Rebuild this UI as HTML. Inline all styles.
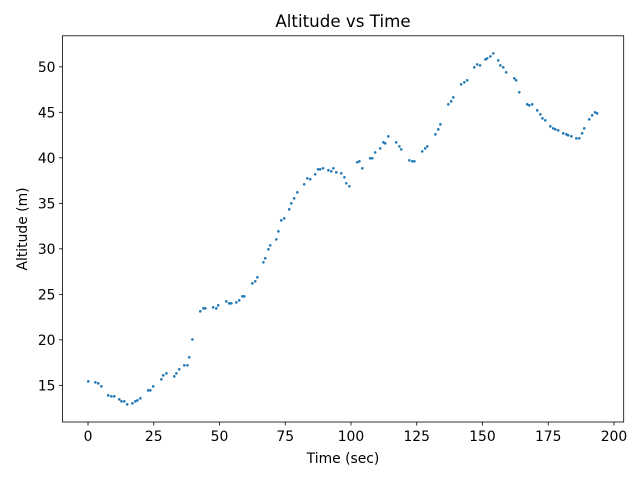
<!DOCTYPE html>
<html><head><meta charset="utf-8"><style>
body{margin:0;background:#fff;width:640px;height:480px;overflow:hidden}
svg{display:block;font-family:"DejaVu Sans","Liberation Sans",sans-serif}
</style></head><body>
<svg id="chart" width="640" height="480" viewBox="0 0 640 480" xmlns="http://www.w3.org/2000/svg">
<rect x="0" y="0" width="640" height="480" fill="#fff"/>
<text x="343" y="27" font-size="16.7" text-anchor="middle" fill="#000">Altitude vs Time</text>
<g id="axes"></g>
<g id="points"></g>
<rect x="62.5" y="35.8" width="561.2" height="386.2" fill="none" stroke="#000" stroke-width="0.8"/>
<text x="343" y="463" font-size="13.9" text-anchor="middle">Time (sec)</text>
<text transform="translate(27,229) rotate(-90)" font-size="13.9" text-anchor="middle">Altitude (m)</text>
</svg>
<script>
const timeSec=[0.1,2.8,3.9,5.1,7.7,8.9,10.0,11.9,12.7,13.8,14.9,16.9,18.0,18.8,19.9,22.9,23.7,24.8,27.9,28.6,29.8,32.8,33.6,34.7,36.6,37.8,38.5,39.7,42.7,43.9,44.6,47.6,48.8,49.5,52.6,53.7,54.5,56.4,57.5,58.7,59.4,62.5,63.6,64.4,66.7,67.4,68.6,69.3,71.6,72.4,73.5,74.6,76.5,77.3,78.4,79.6,82.2,83.4,84.5,86.4,87.5,88.3,89.4,91.4,92.5,93.3,94.4,96.3,97.5,98.2,99.4,102.4,103.2,104.3,107.3,108.1,109.2,111.1,112.3,113.0,114.2,117.2,118.4,119.1,122.2,123.3,124.1,127.1,128.2,129.0,132.1,133.2,134.0,137.0,138.1,138.9,141.9,143.1,144.2,146.9,148.0,149.1,151.1,151.8,153.0,154.1,156.0,156.8,157.9,159.0,162.1,162.8,164.0,167.0,167.8,168.9,170.8,172.0,172.8,173.9,175.8,176.9,177.7,178.8,180.7,181.9,182.6,183.8,185.7,186.8,187.9,188.7,190.6,191.7,192.8,193.6];
const altitudeM=[15.44,15.33,15.22,14.89,13.90,13.79,13.79,13.46,13.24,13.24,12.91,13.02,13.24,13.35,13.57,14.45,14.45,14.89,15.66,16.10,16.32,15.99,16.32,16.76,17.20,17.20,18.08,20.05,23.13,23.46,23.46,23.57,23.46,23.79,24.23,24.01,24.01,24.12,24.34,24.78,24.78,26.21,26.43,26.87,28.52,28.96,29.95,30.38,31.04,31.92,33.13,33.35,34.34,35.0,35.55,36.21,37.09,37.75,37.64,38.19,38.74,38.74,38.85,38.63,38.52,38.85,38.41,38.30,37.86,37.20,36.87,39.51,39.62,38.85,39.95,39.95,40.60,41.04,41.70,41.59,42.36,41.70,41.26,40.93,39.73,39.62,39.62,40.71,41.04,41.26,42.58,43.13,43.68,45.88,46.21,46.65,48.08,48.30,48.52,49.95,50.27,50.16,50.82,50.93,51.15,51.48,50.71,50.16,49.95,49.40,48.74,48.52,47.20,45.88,45.77,45.88,45.22,44.78,44.34,44.12,43.46,43.24,43.13,43.02,42.69,42.58,42.47,42.36,42.14,42.14,42.69,43.24,44.23,44.67,45.00,44.89];
const xTicks=[0,25,50,75,100,125,150,175,200];
const yTicks=[15,20,25,30,35,40,45,50];
const NS="http://www.w3.org/2000/svg";
const L=62.5,R=623.7,T=35.8,B=422;
const xMin=-9.7,xMax=203.7,yMin=10.97,yMax=53.41;
function sx(v){return L+(v-xMin)/(xMax-xMin)*(R-L);}
function sy(v){return B-(v-yMin)/(yMax-yMin)*(B-T);}
function mk(tag,a){const e=document.createElementNS(NS,tag);for(const k in a)e.setAttribute(k,a[k]);return e;}
const ax=document.getElementById('axes');
xTicks.forEach(t=>{
  const x=sx(t);
  const ln=mk('line',{x1:x,x2:x,y1:B,y2:B+3.5,stroke:'#000','stroke-width':0.8});
  
  
  ax.appendChild(ln);
  const tx=mk('text',{x:x,y:B+19,'font-size':13.9,'text-anchor':'middle'});
  
  
  tx.textContent=t;ax.appendChild(tx);
});
yTicks.forEach(t=>{
  const y=sy(t);
  const ln=mk('line',{x1:L-3.5,x2:L,y1:y,y2:y,stroke:'#000','stroke-width':0.8});
  
  
  ax.appendChild(ln);
  const tx=mk('text',{x:L-7,y:y+5,'font-size':13.9,'text-anchor':'end'});
  
  
  tx.textContent=t;ax.appendChild(tx);
});
const pg=document.getElementById('points');
timeSec.forEach((t,i)=>{
  const c=mk('circle',{cx:sx(t),cy:sy(altitudeM[i]),r:1.3,fill:'#1f77b4'});
  
  
  pg.appendChild(c);
});
</script>
</body></html>
